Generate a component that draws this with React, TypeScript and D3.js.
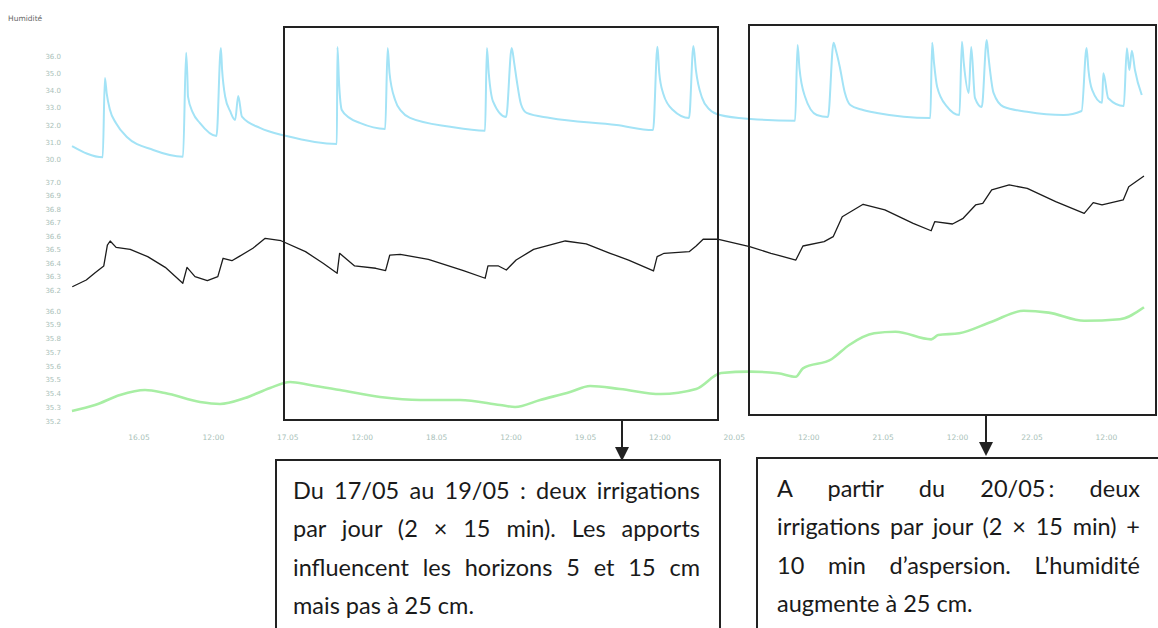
import React, { useEffect, useRef } from 'react';
import * as d3 from 'd3';

// ---------- DATA ----------
// time in hours since 15.05 00:00, humidity value
const depth5cm: [number, number][] = [
  [13.2, 30.78], [18.15, 30.13], [18.5, 34.72], [18.8, 33.8], [19.3, 32.9], [20.3, 32.1], [22.0, 31.32],
  [26.3, 30.55], [31.1, 30.16],
  [31.6, 36.19], [31.8, 34.8], [31.9, 33.64], [32.7, 32.7], [33.8, 32.12], [36.5, 31.36],
  [37.2, 36.46], [37.4, 35.2], [37.9, 33.64], [38.7, 32.8], [39.5, 32.29], [40.0, 33.68], [40.6, 32.48],
  [43.5, 31.83], [47.8, 31.36], [55.9, 30.9],
  [56.0, 36.52], [56.25, 34.5], [56.7, 32.87], [58.0, 32.4], [59.6, 32.12], [63.7, 31.77],
  [64.1, 36.46], [64.4, 35.0], [65.3, 33.45], [66.3, 32.8], [67.7, 32.41], [74.2, 31.9], [79.8, 31.67],
  [80.1, 36.46], [80.4, 35.0], [81.1, 33.35], [83.2, 32.46], [84.1, 36.46], [84.5, 35.6], [84.9, 34.61],
  [85.6, 33.2], [86.5, 32.7], [90.3, 32.41], [101.0, 32.0], [106.9, 31.71],
  [107.6, 36.54], [107.9, 35.0], [108.5, 33.86], [110.1, 32.87], [112.7, 32.41],
  [113.4, 36.58], [113.8, 35.2], [114.8, 33.57], [116.0, 32.9], [117.7, 32.58], [122.6, 32.35], [129.8, 32.25],
  [130.2, 36.64], [130.5, 35.3], [131.4, 33.64], [133.3, 32.58], [135.1, 32.46],
  [136.0, 36.77], [136.4, 36.3], [137.0, 35.38], [137.8, 33.9], [138.7, 33.16], [140.5, 32.9], [143.0, 32.7],
  [151.6, 32.41],
  [151.9, 36.77], [152.2, 35.6], [152.7, 34.22], [154.3, 33.06], [156.3, 32.58],
  [156.7, 36.83], [157.0, 35.6], [157.8, 33.86], [158.2, 36.52], [158.8, 33.57], [159.9, 33.04],
  [160.7, 36.93], [161.0, 35.9], [161.8, 33.86], [163.4, 33.06], [167.2, 32.77], [173.1, 32.58], [176.0, 32.81],
  [176.8, 36.46], [177.1, 35.2], [177.7, 34.03], [179.3, 33.29], [179.5, 35.0], [180.3, 33.55], [182.8, 33.1],
  [183.3, 36.45], [183.7, 35.19], [184.1, 36.31], [184.6, 35.19], [185.7, 33.74],
];

const depth15cm: [number, number][] = [
  [13.24, 36.224], [15.5, 36.274], [16.92, 36.328], [18.32, 36.378], [18.9, 36.533], [19.35, 36.563],
  [20.31, 36.516], [22.58, 36.501], [25.4, 36.447], [28.23, 36.368], [31.06, 36.25], [31.74, 36.368],
  [33.03, 36.299], [35.02, 36.269], [36.71, 36.299], [37.56, 36.435], [38.98, 36.417], [40.11, 36.447],
  [42.37, 36.509], [44.35, 36.583], [46.9, 36.565], [50.85, 36.484], [53.69, 36.398], [55.95, 36.324],
  [56.35, 36.472], [58.77, 36.378], [62.18, 36.361], [63.76, 36.343], [64.44, 36.459], [66.13, 36.464],
  [70.66, 36.427], [76.32, 36.343], [79.82, 36.287], [80.27, 36.378], [81.97, 36.378], [83.23, 36.348],
  [84.81, 36.422], [87.63, 36.501], [92.73, 36.563], [96.11, 36.541], [99.97, 36.472], [102.95, 36.422],
  [106.97, 36.341], [107.55, 36.447], [108.68, 36.472], [112.71, 36.484], [113.84, 36.526],
  [114.97, 36.576], [117.29, 36.576], [122.47, 36.521], [125.9, 36.472], [129.92, 36.422],
  [131.06, 36.526], [134.48, 36.558], [135.94, 36.595], [137.4, 36.743], [140.77, 36.835],
  [144.27, 36.793], [148.84, 36.694], [151.74, 36.639], [152.31, 36.706], [155.18, 36.689],
  [156.9, 36.731], [158.9, 36.83], [160.06, 36.842], [161.5, 36.941], [164.32, 36.978], [167.23, 36.953],
  [171.82, 36.854], [176.42, 36.768], [177.87, 36.847], [179.29, 36.83], [182.71, 36.867],
  [183.6, 36.965], [186.06, 37.044],
];

const depth25cm: [number, number][] = [
  [13.19, 35.273], [16.9, 35.316], [20.94, 35.389], [24.97, 35.425], [28.19, 35.404], [33.84, 35.338],
  [37.06, 35.324], [41.1, 35.367], [45.13, 35.44], [48.35, 35.484], [51.58, 35.462], [56.42, 35.425],
  [62.87, 35.375], [69.32, 35.353], [75.77, 35.353], [82.23, 35.316], [84.65, 35.302], [88.68, 35.353],
  [93.52, 35.411], [96.74, 35.455], [101.58, 35.433], [108.11, 35.396], [113.84, 35.433],
  [117.87, 35.549], [122.47, 35.559], [127.06, 35.547], [129.92, 35.522], [131.06, 35.583],
  [135.66, 35.649], [138.52, 35.753], [142.55, 35.838], [146.0, 35.849], [151.74, 35.794],
  [152.87, 35.825], [156.26, 35.838], [161.5, 35.922], [166.66, 36.002], [170.68, 35.988],
  [176.42, 35.929], [182.16, 35.94], [186.06, 36.027],
];

const tickHours = [24, 36, 48, 60, 72, 84, 96, 108, 120, 132, 144, 156, 168, 180];
const tickLabels = ['16.05', '12:00', '17.05', '12:00', '18.05', '12:00', '19.05', '12:00', '20.05', '12:00', '21.05', '12:00', '22.05', '12:00'];

const topTicks = [36.0, 35.0, 34.0, 33.0, 32.0, 31.0, 30.0];
const midTicks = [37.0, 36.9, 36.8, 36.7, 36.6, 36.5, 36.4, 36.3, 36.2];
const botTicks = [36.0, 35.9, 35.8, 35.7, 35.6, 35.5, 35.4, 35.3, 35.2];

const yTitle = 'Humidité';

const note1Lines = [
  'Du 17/05 au 19/05 : deux irrigations',
  'par jour (2 × 15 min). Les apports',
  'influencent les horizons 5 et 15 cm',
  'mais pas à 25 cm.',
];
const note2Lines = [
  'A partir du 20/05\u2009: deux',
  'irrigations par jour (2 × 15 min) +',
  '10 min d’aspersion. L’humidité',
  'augmente à 25 cm.',
];

// ---------- HELPERS ----------
const BASE = new Date(2024, 4, 15).getTime();
const toDate = (h: number) => new Date(BASE + h * 3600000);

export default function App() {
  const ref = useRef<SVGSVGElement>(null);

  const x = d3.scaleTime().domain([toDate(24), toDate(168)]).range([139, 1032]);
  const yTop = d3.scaleLinear().domain([30, 36]).range([159.5, 56]);
  const yMid = d3.scaleLinear().domain([36.2, 37.0]).range([290, 182]);
  const yBot = d3.scaleLinear().domain([35.2, 36.0]).range([421, 311]);

  const mk = (ys: d3.ScaleLinear<number, number>, curve: d3.CurveFactory) =>
    d3.line<[number, number]>().x(d => x(toDate(d[0]))).y(d => ys(d[1])).curve(curve);

  const pTop = mk(yTop, d3.curveMonotoneX)(depth5cm) || '';
  const pMid = mk(yMid, d3.curveLinear)(depth15cm) || '';
  const pBot = mk(yBot, d3.curveMonotoneX)(depth25cm) || '';

  useEffect(() => {
    if (!ref.current) return;
    d3.select(ref.current).selectAll<SVGTextElement, unknown>('text.just').each(function () {
      const el = this;
      const target = +(el.getAttribute('data-w') || 0);
      el.style.wordSpacing = '0px';
      const w = el.getComputedTextLength();
      const gaps = (el.textContent || '').split(' ').length - 1;
      if (gaps > 0) el.style.wordSpacing = `${(target - w) / gaps}px`;
    });
  }, []);

  const labelColor = '#a9bfb9';
  const axisFont = 'DejaVu Sans, sans-serif';
  const noteFont = 'Lato, "Open Sans", sans-serif';
  const baselines = [499, 537, 576, 614];

  return (
    <svg ref={ref} width={1158} height={628} style={{ position: 'absolute', left: 0, top: 0, background: '#fff' }}>
      <rect x={0} y={0} width={1158} height={628} fill="#fff" />
      <text x={8} y={21} fontSize={7.5} fill="#666" fontFamily={axisFont}>{yTitle}</text>

      {topTicks.map(v => (
        <text key={'t' + v} x={61} y={yTop(v) + 2.5} textAnchor="end" fontSize={7} fill={labelColor} fontFamily={axisFont}>{v.toFixed(1)}</text>
      ))}
      {midTicks.map(v => (
        <text key={'m' + v} x={61} y={yMid(v) + 2.5} textAnchor="end" fontSize={7} fill={labelColor} fontFamily={axisFont}>{v.toFixed(1)}</text>
      ))}
      {botTicks.map(v => (
        <text key={'b' + v} x={61} y={yBot(v) + 2.5} textAnchor="end" fontSize={7} fill={labelColor} fontFamily={axisFont}>{v.toFixed(1)}</text>
      ))}

      {tickHours.map((h, i) => (
        <text key={'x' + h} x={x(toDate(h))} y={440} textAnchor="middle" fontSize={7.5} fill={labelColor} fontFamily={axisFont}>{tickLabels[i]}</text>
      ))}

      <path d={pTop} fill="none" stroke="#a3e3f6" strokeWidth={2} strokeLinejoin="round" />
      <path d={pBot} fill="none" stroke="#a8eea4" strokeWidth={2.6} strokeLinejoin="round" />
      <path d={pMid} fill="none" stroke="#1c1c1c" strokeWidth={1.3} strokeLinejoin="round" />

      {/* highlight frames */}
      <rect x={284} y={27} width={434} height={393} fill="none" stroke="#222" strokeWidth={2} />
      <rect x={749} y={25} width={407} height={390} fill="none" stroke="#222" strokeWidth={2} />

      {/* arrows */}
      <line x1={622} y1={420} x2={622} y2={448} stroke="#222" strokeWidth={2} />
      <path d="M615,447 L629,447 L622,461 Z" fill="#222" />
      <line x1={986} y1={415} x2={986} y2={443} stroke="#222" strokeWidth={2} />
      <path d="M979,442 L993,442 L986,456 Z" fill="#222" />

      {/* note boxes */}
      <rect x={276} y={460} width={444} height={190} fill="#fff" stroke="#222" strokeWidth={2} />
      <rect x={757} y={458} width={420} height={190} fill="#fff" stroke="#222" strokeWidth={2} />

      {note1Lines.map((s, i) => (
        <text key={'n1' + i} className={i < note1Lines.length - 1 ? 'just' : ''} data-w={407}
          x={293} y={baselines[i]} fontSize={23.5} fill="#1a1a1a" fontFamily={noteFont}>{s}</text>
      ))}
      {note2Lines.map((s, i) => (
        <text key={'n2' + i} className={i < note2Lines.length - 1 ? 'just' : ''} data-w={363}
          x={777} y={baselines[i] - 2} fontSize={23.5} fill="#1a1a1a" fontFamily={noteFont}>{s}</text>
      ))}
    </svg>
  );
}
